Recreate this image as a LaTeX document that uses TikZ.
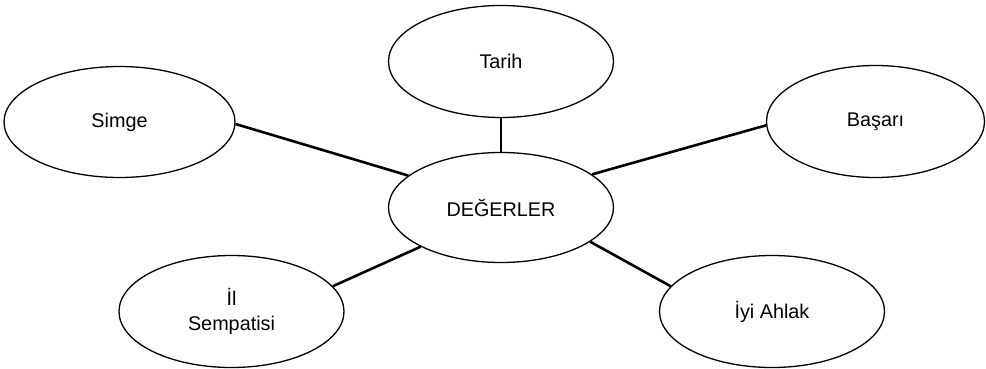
\documentclass[tikz,border=0pt]{standalone}
\usepackage{fontspec}
\setmainfont{Liberation Sans}
\usetikzlibrary{shapes.geometric}
\begin{document}
\begin{tikzpicture}[x=1pt,y=-1pt,
  bubble/.style={ellipse, draw, line width=1.3pt, minimum width=225pt, minimum height=112pt,
    inner sep=0pt, font=\fontsize{19.8}{25}\selectfont, align=center},
  link/.style={line width=2.6pt}]
\useasboundingbox (0,0) rectangle (986,369);
\node[bubble, minimum width=231pt, minimum height=111pt] (simge) at (119.5,122) {Simge};
\node[bubble] (tarih) at (501,61.5) {Tarih};
\node[bubble, minimum width=218pt] (basari) at (875.5,121.5) {Başarı};
\node[bubble, minimum height=110pt] (deg) at (501,207.5) {DEĞERLER};
\node[bubble] (il) at (231.5,311.5) {İl\\Sempatisi};
\node[bubble] (iyi) at (772,311.5) {İyi Ahlak};
\draw[link] (tarih.south) -- (deg.north);
\draw[link] (simge.-1) -- (deg.161);
\draw[link] (basari.182) -- (deg.20);
\draw[link] (il.14.6) -- (deg.206);
\draw[link] (iyi.166.6) -- (deg.-21.4);
\end{tikzpicture}
\end{document}
